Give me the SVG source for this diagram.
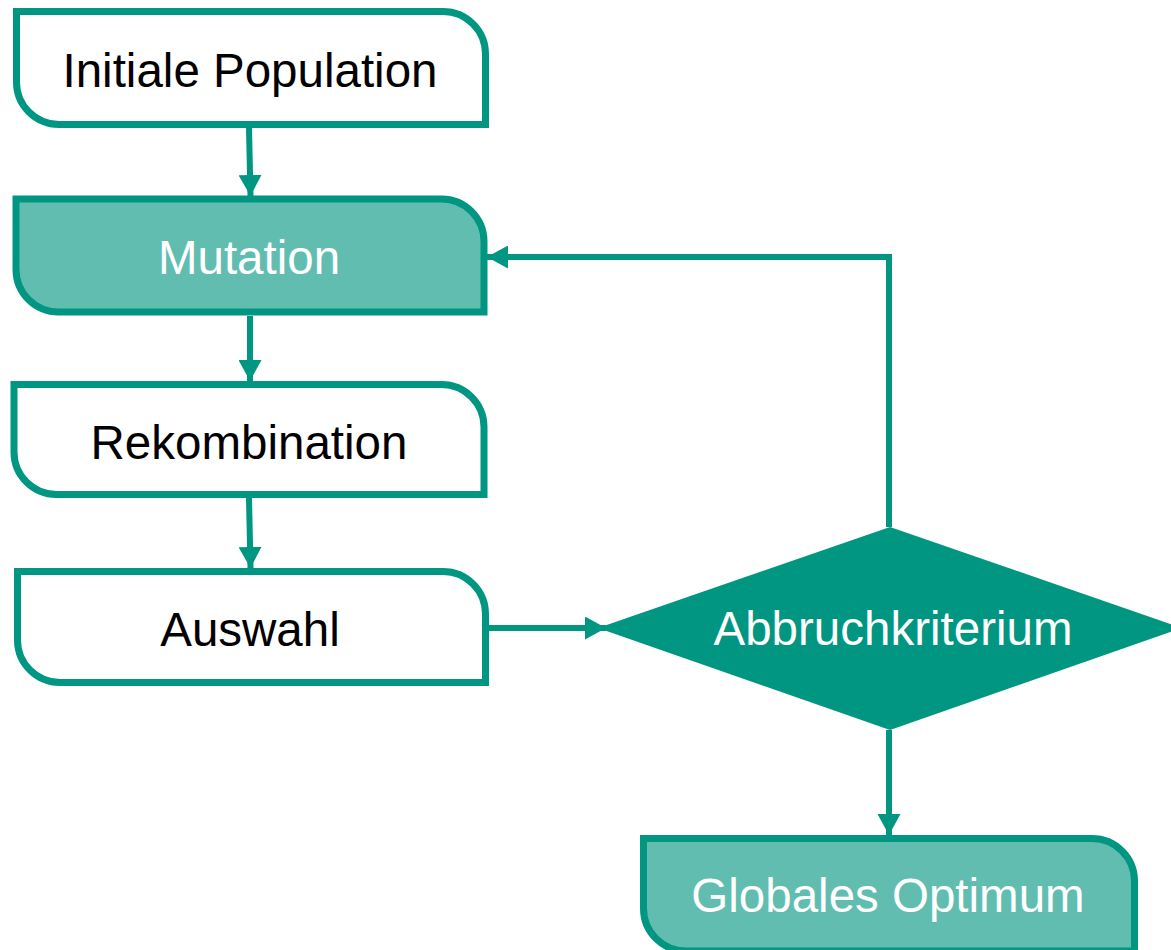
<svg xmlns="http://www.w3.org/2000/svg" width="1171" height="950" viewBox="0 0 1171 950">
<defs>
<style>
.box{stroke:#009682;stroke-width:7;}
.w{fill:#ffffff;}
.l{fill:#62BDB1;}
.t{font-family:"Liberation Sans",Arial,sans-serif;font-size:47.5px;text-anchor:middle;}
.dk{fill:#000000;}
.wt{fill:#ffffff;}
.c{fill:none;stroke:#009682;stroke-width:6;}
</style>
<marker id="ah" viewBox="0 0 21 23" refX="21" refY="11.5" markerWidth="21" markerHeight="23" markerUnits="userSpaceOnUse" orient="auto">
<path d="M0,0 L21,11.5 L0,23 Z" fill="#009682"/>
</marker>
</defs>
<rect width="1171" height="950" fill="#ffffff"/>
<g id="connectors">
<path class="c" d="M249,128 L250.5,196" marker-end="url(#ah)"/>
<path class="c" d="M250,316 L250,381" marker-end="url(#ah)"/>
<path class="c" d="M249,498 L250.5,568" marker-end="url(#ah)"/>
<path class="c" d="M489,628 L606,628" marker-end="url(#ah)"/>
<path class="c" d="M889,527 L889,257 L487,257" marker-end="url(#ah)"/>
<path class="c" d="M889,730 L889,835" marker-end="url(#ah)"/>
</g>
<g id="n1">
<path class="box w" d="M16.5,11.5 H443 A42.5,42.5 0 0 1 485.5,54 V124.5 H59 A42.5,42.5 0 0 1 16.5,82 Z"/>
<text class="t dk" x="250" y="87">Initiale Population</text>
</g>
<g id="n2">
<path class="box l" d="M16,199 H441.5 A42.5,42.5 0 0 1 484,241.5 V312 H58.5 A42.5,42.5 0 0 1 16,269.5 Z"/>
<text class="t wt" x="249" y="274">Mutation</text>
</g>
<g id="n3">
<path class="box w" d="M14,384.5 H441.5 A42.5,42.5 0 0 1 484,427 V494.5 H56.5 A42.5,42.5 0 0 1 14,452 Z"/>
<text class="t dk" x="249" y="459">Rekombination</text>
</g>
<g id="n4">
<path class="box w" d="M17.5,571.5 H443 A42.5,42.5 0 0 1 485.5,614 V682.5 H60 A42.5,42.5 0 0 1 17.5,640 Z"/>
<text class="t dk" x="250" y="646">Auswahl</text>
</g>
<g id="n5">
<path d="M890,527 L1182,628 L890,730 L598,628 Z" fill="#009682"/>
<text class="t wt" x="893" y="645">Abbruchkriterium</text>
</g>
<g id="n6">
<path class="box l" d="M643.5,838.5 H1092 A42.5,42.5 0 0 1 1134.5,881 V951 H686 A42.5,42.5 0 0 1 643.5,908.5 Z"/>
<text class="t wt" x="888" y="912">Globales Optimum</text>
</g>
</svg>
